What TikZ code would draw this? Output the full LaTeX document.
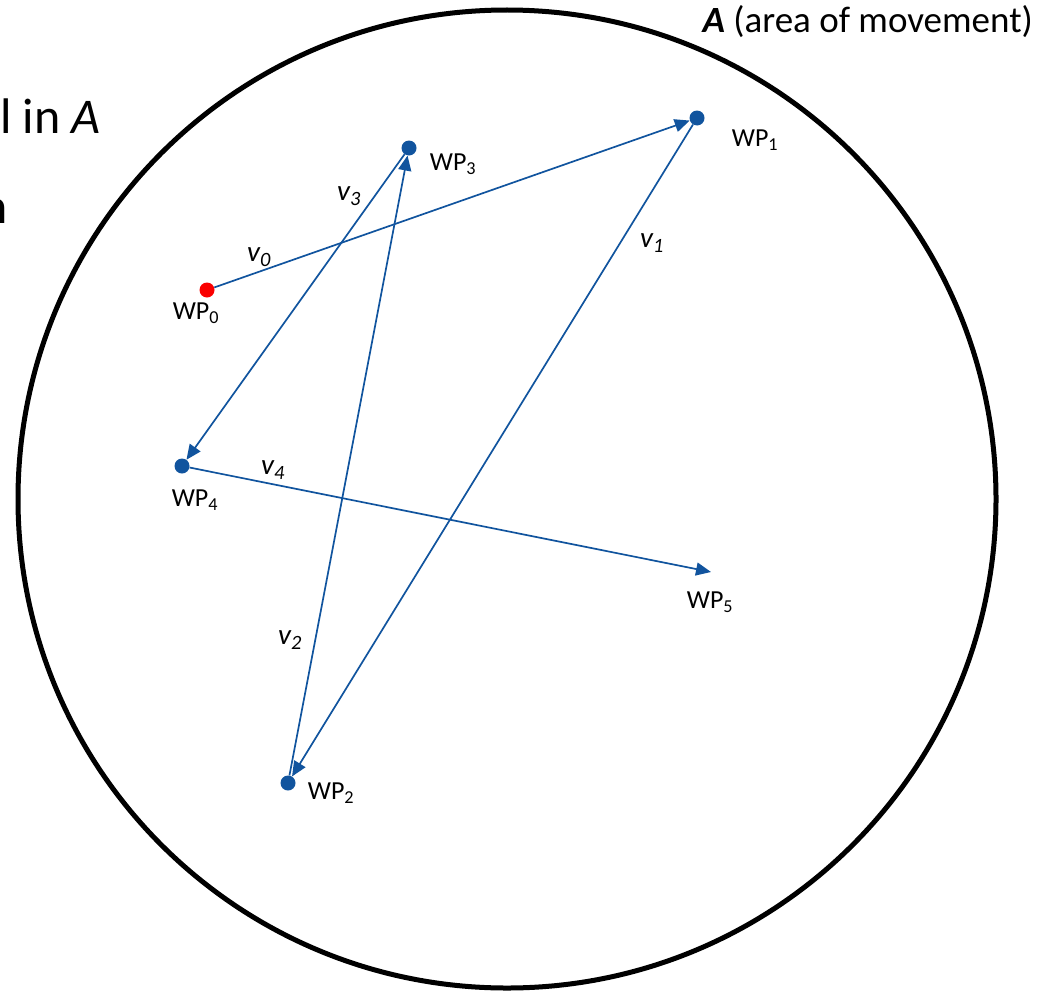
\documentclass[tikz,border=0pt]{standalone}
\usepackage{fontspec}
\setmainfont{Carlito}
\usetikzlibrary{arrows.meta}
\definecolor{wpblue}{RGB}{17,84,158}
\definecolor{wpred}{RGB}{250,0,0}
\tikzset{
  wpdot/.style={circle,fill=wpblue,inner sep=0pt,minimum size=15pt},
  leg/.style={draw=wpblue,line width=1.7pt,-{Triangle[length=15pt,width=13pt]}},
  wplabel/.style={font=\fontsize{26}{28}\selectfont},
  vlabel/.style={font=\fontsize{29}{31}\selectfont\itshape},
}
\begin{document}
\begin{tikzpicture}[x=1pt,y=-1pt]
\useasboundingbox (0,0) rectangle (1048,990);
% slide text cut off at the left
\node[anchor=base east,inner sep=0pt,font=\fontsize{50}{54}\selectfont] (txtA) at (101,133) {l in \textit{A}};
\node[anchor=base east,inner sep=0pt,font=\fontsize{50}{54}\selectfont] (txtB) at (8,223) {n};
% area of movement
\draw[line width=5pt] (507,499) circle (489);
\node[anchor=base east,inner sep=0pt,font=\fontsize{37}{40}\selectfont] (area) at (1033,33) {\textbf{\textit{A}} (area of movement)};
% waypoints
\node[wpdot,fill=wpred] (wp0) at (207,290) {};
\node[wpdot] (wp1) at (697,118) {};
\node[wpdot] (wp2) at (288,783) {};
\node[wpdot] (wp3) at (409,148) {};
\node[wpdot] (wp4) at (182,466) {};
\coordinate (wp5) at (711,572);
\node[wplabel] (l0) at (196,313) {WP\textsubscript{0}};
\node[wplabel] (l1) at (755,140) {WP\textsubscript{1}};
\node[wplabel] (l2) at (331,793) {WP\textsubscript{2}};
\node[wplabel] (l3) at (453,164) {WP\textsubscript{3}};
\node[wplabel] (l4) at (195,500) {WP\textsubscript{4}};
\node[wplabel] (l5) at (710,602) {WP\textsubscript{5}};
% legs
\draw[leg] (wp0) -- (wp1);
\draw[leg] (wp1) -- (wp2);
\draw[leg] (wp2) -- (wp3);
\draw[leg] (wp3) -- (wp4);
\draw[leg] (wp4) -- (wp5);
\node[vlabel] (v0) at (259,257) {v\textsubscript{0}};
\node[vlabel] (v1) at (652,243) {v\textsubscript{1}};
\node[vlabel] (v2) at (290,640) {v\textsubscript{2}};
\node[vlabel] (v3) at (349,196) {v\textsubscript{3}};
\node[vlabel] (v4) at (273,470) {v\textsubscript{4}};
\end{tikzpicture}
\end{document}
